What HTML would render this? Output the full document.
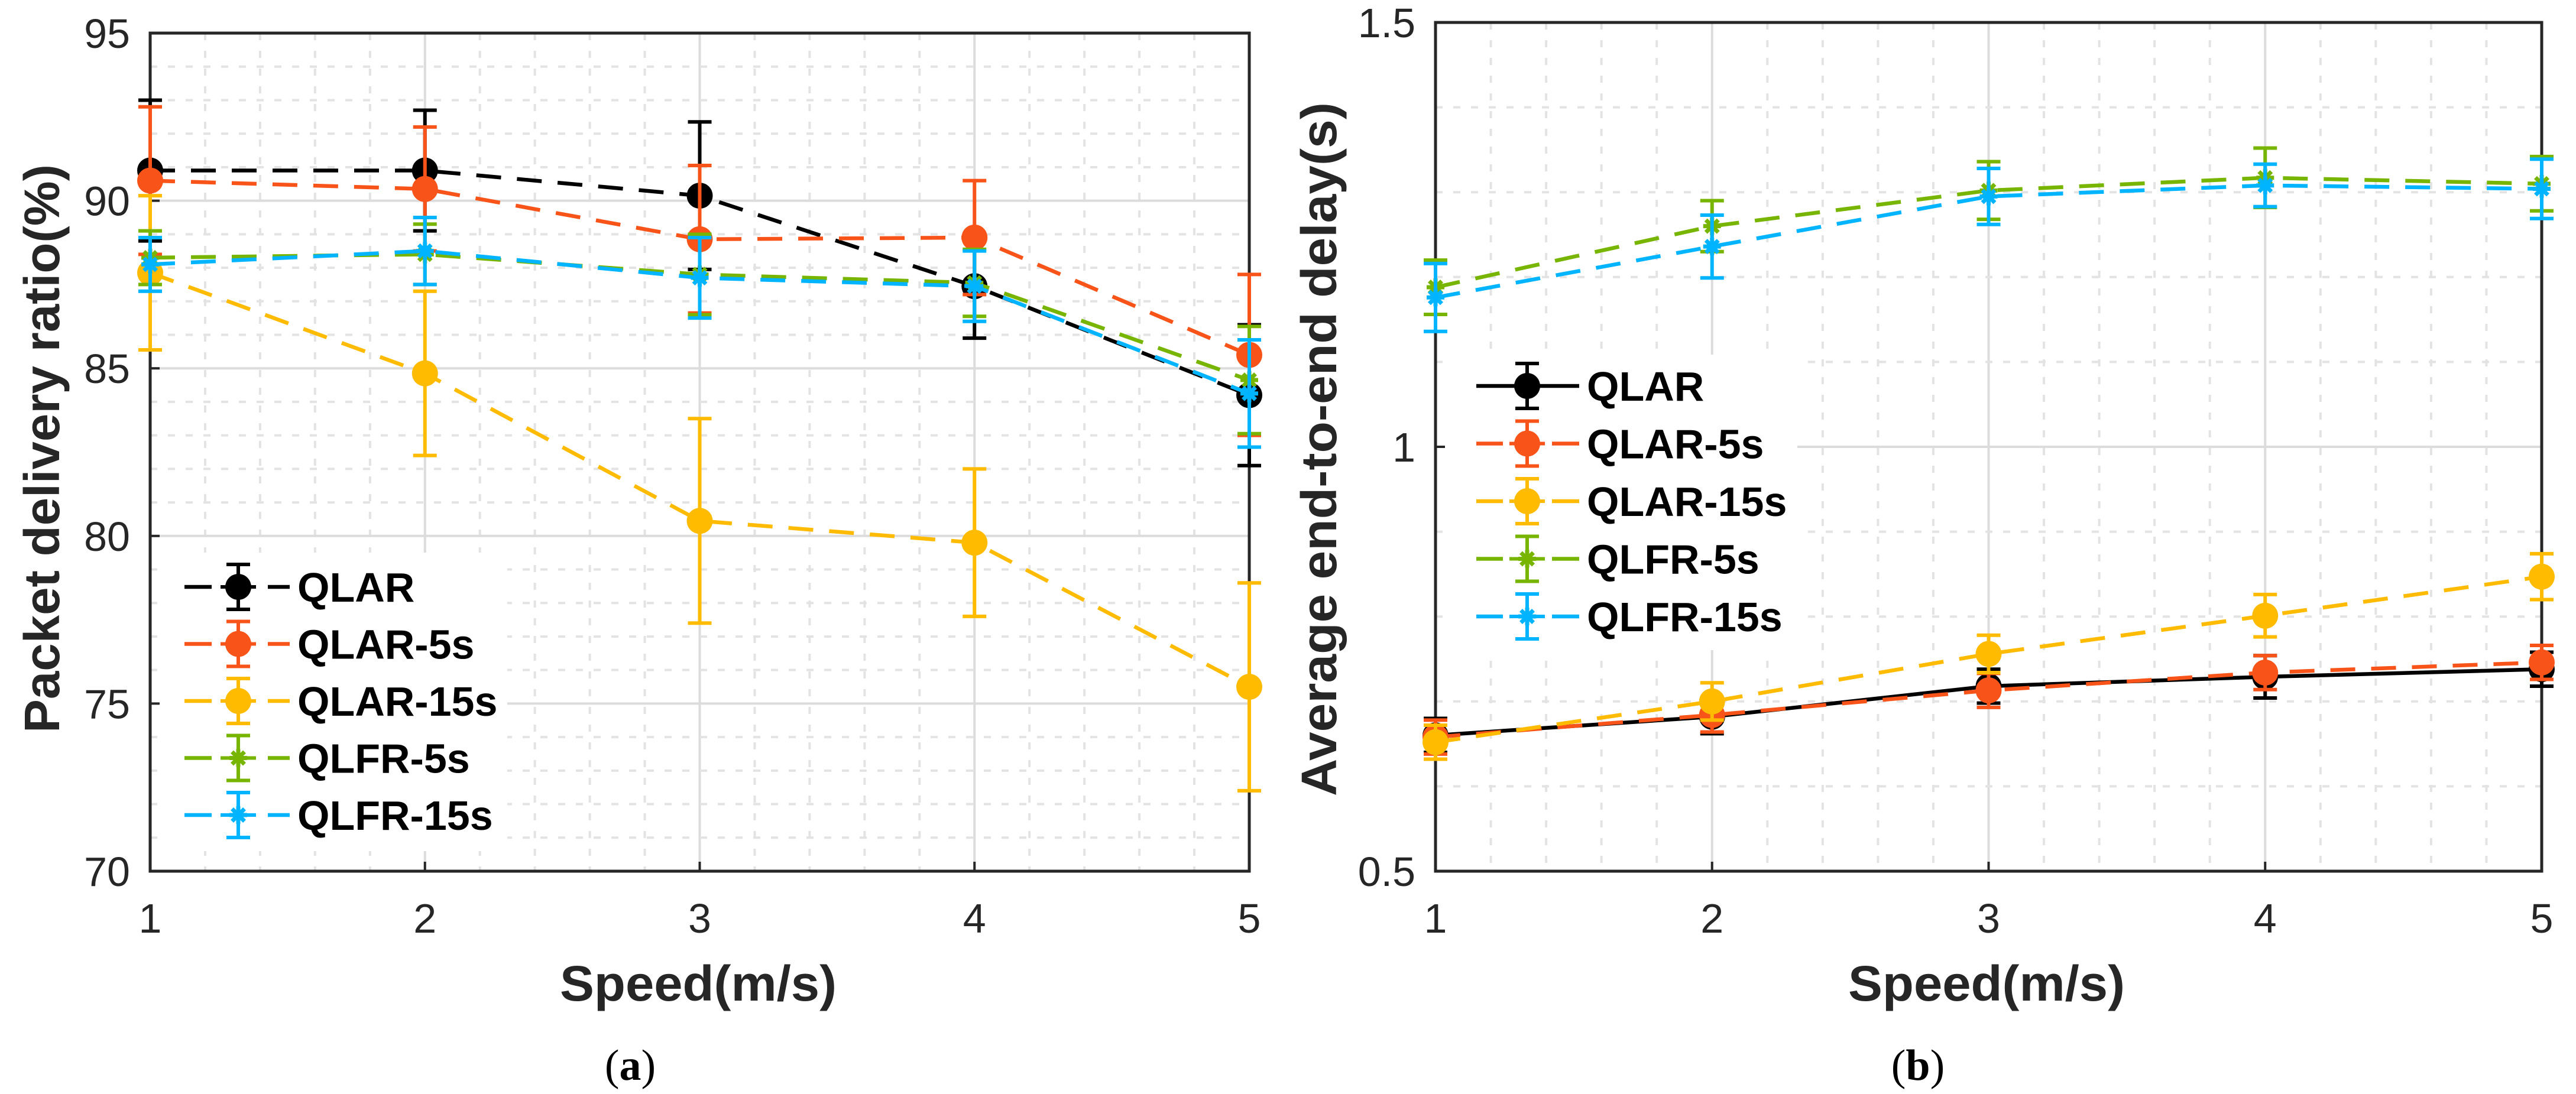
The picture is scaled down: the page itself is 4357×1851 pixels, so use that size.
<!DOCTYPE html>
<html><head><meta charset="utf-8">
<style>
html,body{margin:0;padding:0;background:#fff;}
svg{display:block;}
text{font-family:"Liberation Sans",sans-serif;}
</style></head>
<body>
<svg id="fig" xmlns="http://www.w3.org/2000/svg" width="4357" height="1851" viewBox="0 0 4357 1851"></svg>
<script>
// ---- data ----
const speeds = [1, 2, 3, 4, 5];
const seriesNames = ["QLAR", "QLAR-5s", "QLAR-15s", "QLFR-5s", "QLFR-15s"];
// Panel (a): packet delivery ratio (%)
const pdrQLAR     = [90.9, 90.9, 90.15, 87.45, 84.2];
const pdrQLAR5    = [90.6, 90.35, 88.85, 88.9, 85.4];
const pdrQLAR15   = [87.85, 84.85, 80.45, 79.8, 75.5];
const pdrQLFR5    = [88.3, 88.4, 87.8, 87.55, 84.65];
const pdrQLFR15   = [88.1, 88.5, 87.7, 87.45, 84.25];
const pdrErrQLAR   = [2.1, 1.8, 2.2, 1.55, 2.1];
const pdrErrQLAR5  = [2.2, 1.85, 2.2, 1.7, 2.4];
const pdrErrQLAR15 = [2.3, 2.45, 3.05, 2.2, 3.1];
const pdrErrQLFR5  = [0.8, 0.9, 1.2, 1.0, 1.6];
const pdrErrQLFR15 = [0.8, 1.0, 1.2, 1.05, 1.6];
// Panel (b): average end-to-end delay (s)
const delQLAR   = [0.66, 0.682, 0.718, 0.729, 0.738];
const delQLAR5  = [0.658, 0.684, 0.713, 0.734, 0.746];
const delQLAR15 = [0.652, 0.700, 0.756, 0.801, 0.847];
const delQLFR5  = [1.188, 1.26, 1.302, 1.317, 1.31];
const delQLFR15 = [1.176, 1.236, 1.295, 1.308, 1.304];
const delErrQLAR   = [0.02, 0.02, 0.02, 0.025, 0.02];
const delErrQLAR5  = [0.02, 0.02, 0.02, 0.02, 0.02];
const delErrQLAR15 = [0.02, 0.022, 0.022, 0.025, 0.027];
const delErrQLFR5  = [0.032, 0.03, 0.034, 0.035, 0.032];
const delErrQLFR15 = [0.04, 0.037, 0.033, 0.025, 0.035];
const xTicks = [1, 2, 3, 4, 5];
const pdrTicks = [70, 75, 80, 85, 90, 95];
const delTicks = [0.5, 1, 1.5];
const delTickLabels = ["0.5", "1", "1.5"];

// ---- styling ----
const colors = ["#000000", "#F85318", "#FFBB00", "#77B500", "#00B4FF"];
const markers = ["circle", "circle", "circle", "star", "star"];
const NS = "http://www.w3.org/2000/svg";
const svg = document.getElementById("fig");
function mk(tag, attrs, parent) {
  const e = document.createElementNS(NS, tag);
  for (const k in attrs) e.setAttribute(k, attrs[k]);
  (parent || svg).appendChild(e);
  return e;
}

function drawPanel(cfg) {
  const g = mk("g", {});
  
  
  const L = cfg.left, R = cfg.right, T = cfg.top, B = cfg.bottom;
  const sx = v => L + (v - 1) / 4 * (R - L);
  const sy = v => B - (v - cfg.ymin) / (cfg.ymax - cfg.ymin) * (B - T);

  const grid = mk("g", {}, g);
  
  
  for (let v = 1; v < 5.001; v += 0.2) {
    const major = Math.abs(v - Math.round(v)) < 1e-6;
    const x = sx(v);
    const ln = mk("line", {x1: x, x2: x, y1: T, y2: B, stroke: major ? "#dcdcdc" : "#e3e3e3", "stroke-width": 4, "stroke-dasharray": major ? "none" : "12 18"}, grid);
    
    
  }
  for (let v = cfg.ymin; v <= cfg.ymax + 1e-9; v += cfg.minorStep) {
    const major = cfg.majorTicks.some(t => Math.abs(t - v) < 1e-6);
    const y = sy(v);
    const ln = mk("line", {x1: L, x2: R, y1: y, y2: y, stroke: major ? "#dcdcdc" : "#e3e3e3", "stroke-width": 4, "stroke-dasharray": major ? "none" : "12 18"}, grid);
    
    
  }
  const lg = cfg.legend;
  const lb = mk("rect", {x: lg.bx, y: lg.by, width: lg.bw, height: lg.bh, fill: "#fff"}, g);
  
  

  const box = mk("rect", {x: L, y: T, width: R - L, height: B - T, fill: "none", stroke: "#262626", "stroke-width": 5}, g);
  
  
  xTicks.forEach(v => {
    const x = sx(v);
    const t1 = mk("line", {x1: x, x2: x, y1: B, y2: B - 16, stroke: "#262626", "stroke-width": 4}, g);
    
    
    const tl = mk("text", {x: x, y: 1578, "font-size": 70, fill: "#262626", "text-anchor": "middle"}, g);
    tl.textContent = String(v);
    
    
  });
  cfg.majorTicks.forEach((v, i) => {
    const y = sy(v);
    const t1 = mk("line", {x1: L, x2: L + 16, y1: y, y2: y, stroke: "#262626", "stroke-width": 4}, g);
    
    
    const tl = mk("text", {x: L - 34, y: y + 25, "font-size": 70, fill: "#262626", "text-anchor": "end"}, g);
    tl.textContent = cfg.tickLabels[i];
    
    
  });

  cfg.series.forEach((vals, si) => {
    const sg = mk("g", {}, g);
    
    
    const c = colors[si];
    const pts = speeds.map((s, i) => sx(s) + "," + sy(vals[i])).join(" ");
    const dash = (cfg.solidFirst && si === 0) ? "none" : "42 27";
    const pl = mk("polyline", {points: pts, fill: "none", stroke: c, "stroke-width": 6.5, "stroke-dasharray": dash}, sg);
    
    
    speeds.forEach((s, i) => {
      const x = sx(s), y = sy(vals[i]);
      const e = cfg.errs[si][i];
      const y1 = sy(vals[i] + e), y2 = sy(vals[i] - e);
      const eb = mk("path", {d: `M${x},${y1}V${y2}M${x-20},${y1}H${x+20}M${x-20},${y2}H${x+20}`, stroke: c, "stroke-width": 6, fill: "none"}, sg);
      
      
      drawMarker(sg, markers[si], x, y, c);
    });
  });

  seriesNames.forEach((n, i) => {
    const y = lg.y0 + i * lg.dy;
    const c = colors[i];
    const eg = mk("g", {}, g);
    
    
    if (cfg.solidFirst && i === 0) {
      const l = mk("line", {x1: lg.lx1, x2: lg.lx4, y1: y, y2: y, stroke: c, "stroke-width": 6.5}, eg);
      
      
    } else {
      const l1 = mk("line", {x1: lg.lx1, x2: lg.lx2, y1: y, y2: y, stroke: c, "stroke-width": 6.5}, eg);
      
      
      const l2 = mk("line", {x1: lg.lx3, x2: lg.lx4, y1: y, y2: y, stroke: c, "stroke-width": 6.5}, eg);
      
      
    }
    const eb = mk("path", {d: `M${lg.mx},${y-38}V${y+38}M${lg.mx-20},${y-38}H${lg.mx+20}M${lg.mx-20},${y+38}H${lg.mx+20}`, stroke: c, "stroke-width": 6, fill: "none"}, eg);
    
    
    const mh = mk("line", {x1: lg.mx - 30, x2: lg.mx + 30, y1: y, y2: y, stroke: c, "stroke-width": 6}, eg);
    
    
    drawMarker(eg, markers[i], lg.mx, y, c);
    const t = mk("text", {x: lg.tx, y: y + 25, "font-size": 70, "font-weight": "bold", fill: "#000"}, eg);
    t.textContent = n;
    
    
  });

  const xt = mk("text", {x: cfg.xTitleX, y: 1693, "font-size": 84, "font-weight": "bold", fill: "#262626", "text-anchor": "middle", textLength: 468, lengthAdjust: "spacingAndGlyphs"}, g);
  xt.textContent = "Speed(m/s)";
  
  
  const yt = mk("text", {x: 0, y: 0, "font-size": 84, "font-weight": "bold", fill: "#262626", "text-anchor": "middle", textLength: cfg.yTitleLen, lengthAdjust: "spacingAndGlyphs", transform: `translate(${cfg.yTitleX},${cfg.yTitleY}) rotate(-90)`}, g);
  yt.textContent = cfg.yTitle;
  
  
  const cap = mk("text", {x: cfg.capX, y: 1827, "font-size": 74, fill: "#000", "text-anchor": "middle", style: "font-family:'Liberation Serif',serif"}, g);
  cap.innerHTML = '(<tspan font-weight="bold">' + cfg.cap + '</tspan>)';
  
  
}

function drawMarker(parent, type, x, y, c) {
  if (type === "circle") {
    const m = mk("circle", {cx: x, cy: y, r: 22, fill: c}, parent);
    
    
  } else {
    const r = 15;
    const m = mk("path", {d: `M${x-r},${y}H${x+r}M${x},${y-r}V${y+r}M${x-r*0.7},${y-r*0.7}L${x+r*0.7},${y+r*0.7}M${x-r*0.7},${y+r*0.7}L${x+r*0.7},${y-r*0.7}`, stroke: c, "stroke-width": 7, fill: "none"}, parent);
    
    
  }
}

drawPanel({
  name: "panel-a-pdr", left: 254, right: 2113, top: 56, bottom: 1474,
  ymin: 70, ymax: 95, minorStep: 1, majorTicks: pdrTicks,
  tickLabels: pdrTicks.map(String),
  series: [pdrQLAR, pdrQLAR5, pdrQLAR15, pdrQLFR5, pdrQLFR15],
  errs: [pdrErrQLAR, pdrErrQLAR5, pdrErrQLAR15, pdrErrQLFR5, pdrErrQLFR15],
  solidFirst: false,
  legend: {bx: 268, by: 935, bw: 590, bh: 505, y0: 993, dy: 96.5, lx1: 312, lx2: 358, lx3: 453, lx4: 490, mx: 403, tx: 503},
  xTitleX: 1181, yTitle: "Packet delivery ratio(%)", yTitleX: 100, yTitleY: 759, yTitleLen: 962,
  capX: 1066, cap: "a"
});
drawPanel({
  name: "panel-b-delay", left: 2428, right: 4299, top: 38, bottom: 1474,
  ymin: 0.5, ymax: 1.5, minorStep: 0.1, majorTicks: delTicks,
  tickLabels: delTickLabels,
  series: [delQLAR, delQLAR5, delQLAR15, delQLFR5, delQLFR15],
  errs: [delErrQLAR, delErrQLAR5, delErrQLAR15, delErrQLFR5, delErrQLFR15],
  solidFirst: true,
  legend: {bx: 2440, by: 600, bw: 600, bh: 500, y0: 653, dy: 97.5, lx1: 2497, lx2: 2542, lx3: 2625, lx4: 2671, mx: 2583, tx: 2684},
  xTitleX: 3360, yTitle: "Average end-to-end delay(s)", yTitleX: 2260, yTitleY: 760, yTitleLen: 1174,
  capX: 3244, cap: "b"
});
</script>
</body></html>
